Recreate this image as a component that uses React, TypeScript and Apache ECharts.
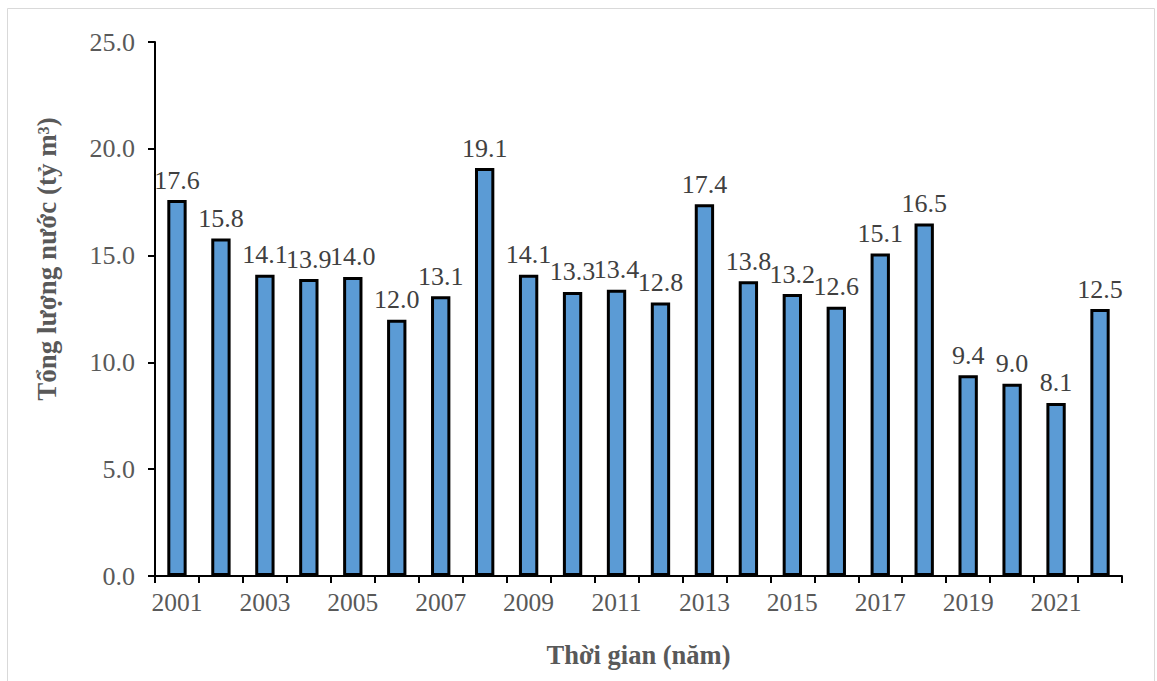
import React, { useEffect, useRef } from "react";
import * as echarts from "echarts";

const years = ["2001","2002","2003","2004","2005","2006","2007","2008","2009","2010","2011","2012","2013","2014","2015","2016","2017","2018","2019","2020","2021","2022"];
const waterVolume = [17.6,15.8,14.1,13.9,14.0,12.0,13.1,19.1,14.1,13.3,13.4,12.8,17.4,13.8,13.2,12.6,15.1,16.5,9.4,9.0,8.1,12.5];
const yTicks = { min: 0, max: 25, interval: 5 };

const FONT = "Liberation Serif";

export default function App() {
  const ref = useRef<HTMLDivElement>(null);
  useEffect(() => {
    if (!ref.current) return;
    const chart = echarts.init(ref.current, null, { renderer: "svg" });
    chart.setOption({
      animation: false,
      backgroundColor: "#ffffff",
      textStyle: { fontFamily: FONT },
      graphic: [
        {
          type: "rect",
          shape: { x: 7.5, y: 8.5, width: 1147, height: 690 },
          style: { fill: "none", stroke: "#d9d9d9", lineWidth: 1 },
          silent: true,
        },
      ],
      grid: { left: 155, top: 42, right: 35, bottom: 105, containLabel: false },
      xAxis: {
        type: "category",
        data: years,
        name: "Thời gian (năm)",
        nameLocation: "middle",
        nameGap: 65,
        nameTextStyle: { fontFamily: FONT, fontSize: 26.5, fontWeight: "bold", color: "#595959" },
        axisLine: { lineStyle: { color: "#000", width: 2 } },
        axisTick: { show: true, length: 7, lineStyle: { color: "#000", width: 2 }, interval: 0 },
        axisLabel: { interval: 1, fontFamily: FONT, fontSize: 25.5, color: "#595959", margin: 13 },
      },
      yAxis: {
        type: "value",
        min: yTicks.min,
        max: yTicks.max,
        interval: yTicks.interval,
        name: "Tổng lượng nước (tỷ m³)",
        nameLocation: "middle",
        nameGap: 95,
        nameTextStyle: {
          fontFamily: FONT,
          fontSize: 27,
          fontWeight: "bold",
          color: "#595959",
          padding: [0, 0, 0, 100],
        },
        axisLine: { show: true, lineStyle: { color: "#000", width: 2 } },
        axisTick: { show: true, length: 7, lineStyle: { color: "#000", width: 2 } },
        splitLine: { show: false },
        axisLabel: {
          fontFamily: FONT,
          fontSize: 26,
          color: "#595959",
          margin: 20,
          formatter: (v: number) => v.toFixed(1),
        },
      },
      series: [
        {
          type: "bar",
          data: waterVolume,
          barWidth: "44%",
          itemStyle: { color: "#5B9BD5", borderColor: "#000", borderWidth: 3 },
          label: {
            show: true,
            position: "top",
            distance: 7,
            fontFamily: FONT,
            fontSize: 26,
            color: "#404040",
            formatter: (p: any) => Number(p.value).toFixed(1),
          },
        },
      ],
    });
    return () => chart.dispose();
  }, []);
  return (
    <div
      ref={ref}
      style={{ position: "absolute", left: 0, top: 0, width: 1157, height: 681 }}
    />
  );
}
